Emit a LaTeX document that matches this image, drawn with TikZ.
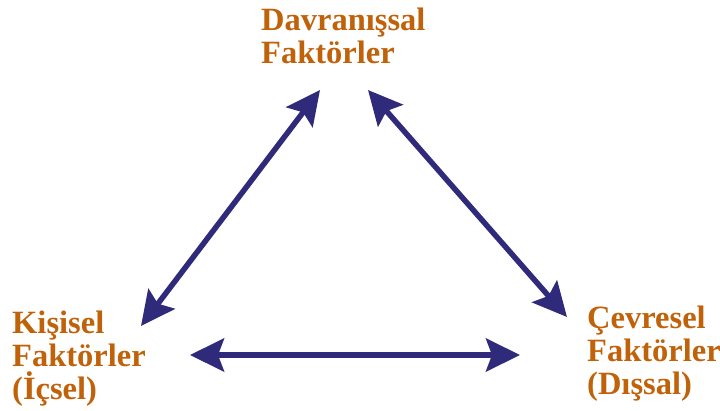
\documentclass[tikz,border=0pt]{standalone}
\usepackage{fontspec}
\setmainfont{Liberation Serif}[BoldFont={Liberation Serif Bold}]
\newfontfamily\faktorfont{Liberation Serif Bold}
\usetikzlibrary{arrows.meta,positioning}
\definecolor{faktor}{RGB}{192,98,10}
\definecolor{okrenk}{RGB}{48,42,122}
\tikzset{
factor/.style={text=faktor,font=\fontsize{32.5}{33}\faktorfont,align=left,inner sep=0pt},
link/.style={{Stealth[length=34pt,width=33pt,inset=6pt]}-{Stealth[length=34pt,width=33pt,inset=6pt]},line width=5.5pt,draw=okrenk,fill=okrenk}
}
\begin{document}
\begin{tikzpicture}[x=1pt,y=-1pt]
\useasboundingbox (0,0) rectangle (720,410);
\node[factor,anchor=north west](davranis) at (261,8){Davranışsal\\Faktörler};
\node[factor,anchor=north west](kisisel) at (12,311){Kişisel\\Faktörler\\(İçsel)};
\node[factor,anchor=north west](cevresel) at (587,306){Çevresel\\Faktörler\\(Dışsal)};
\coordinate(dsol) at (320,90);
\coordinate(dsag) at (368,90);
\coordinate(kust) at (141,326);
\coordinate(kalt) at (190,355);
\coordinate(cust) at (567,317);
\coordinate(calt) at (520,355);
\draw[link](kust)--(dsol);
\draw[link](dsag)--(cust);
\draw[link](kalt)--(calt);
\end{tikzpicture}
\end{document}
